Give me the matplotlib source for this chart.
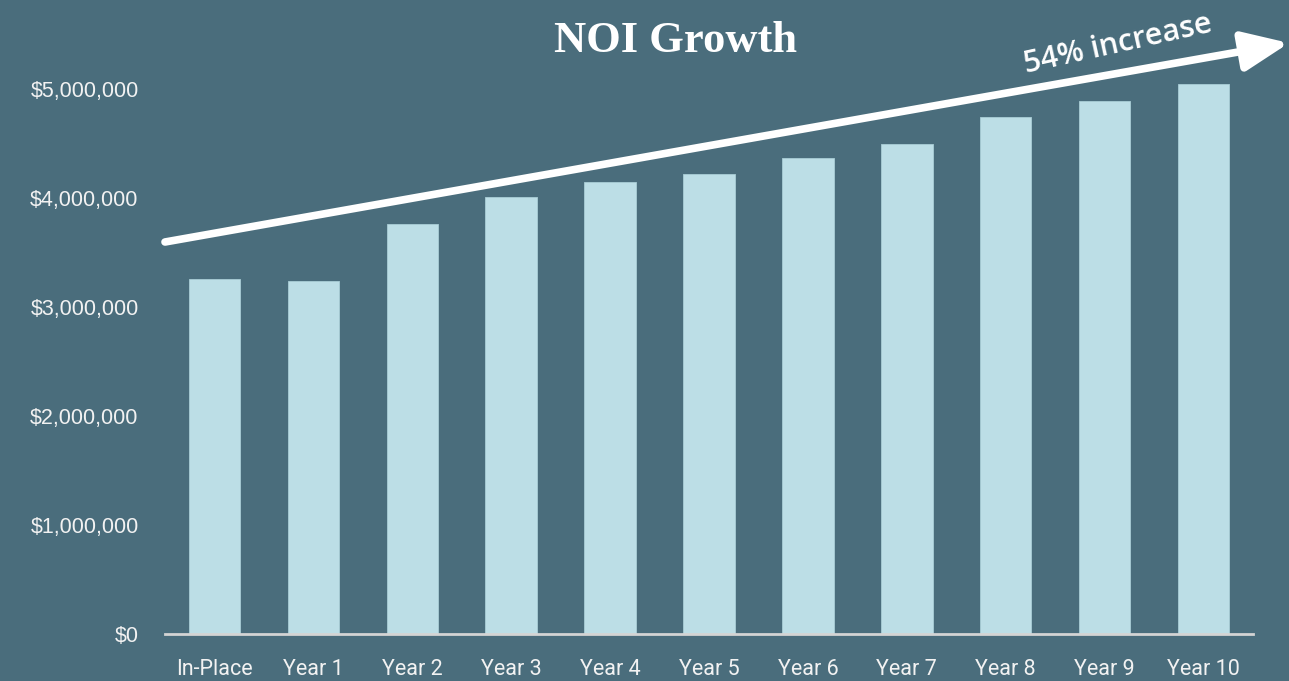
"""NOI growth bar chart with trend arrow."""

import matplotlib
matplotlib.use("Agg")
import matplotlib.pyplot as plt
from matplotlib.ticker import FuncFormatter

categories = ["In-Place", "Year 1", "Year 2", "Year 3", "Year 4", "Year 5",
              "Year 6", "Year 7", "Year 8", "Year 9", "Year 10"]
noi = [3257000, 3239000, 3761000, 4009000, 4147000, 4220000,
       4367000, 4495000, 4743000, 4890000, 5046000]
y_ticks = [0, 1000000, 2000000, 3000000, 4000000, 5000000]

BG = "#4a6d7c"
BAR = "#bcdee6"
TEXT = "#f2f2f2"

fig = plt.figure(figsize=(12.89, 6.81), dpi=100, facecolor=BG)
ax = fig.add_axes([165 / 1289, 47 / 681, 1088 / 1289, 599.5 / 681])
ax.set_facecolor(BG)

x = range(len(categories))
ax.bar(x, noi, width=0.52, color=BAR, edgecolor="#a9cdd6", linewidth=0.6)

ax.set_xlim(-0.5, len(categories) - 0.5)
ax.set_ylim(0, 5500000)
ax.set_xticks(list(x))
ax.set_xticklabels(categories, fontfamily="Roboto", fontsize=15.5, color=TEXT)
ax.set_yticks(y_ticks)
ax.yaxis.set_major_formatter(FuncFormatter(lambda v, _: f"${v:,.0f}"))
for lbl in ax.get_yticklabels():
    lbl.set_fontfamily("Liberation Sans")
    lbl.set_fontsize(15.5)
    lbl.set_color(TEXT)
ax.tick_params(axis="both", length=0)
ax.tick_params(axis="y", pad=19)
ax.tick_params(axis="x", pad=18)

for side in ["top", "right", "left"]:
    ax.spines[side].set_visible(False)
ax.spines["bottom"].set_color("#d4d4d4")
ax.spines["bottom"].set_linewidth(2)

fig.text(676 / 1289, 1 - 41 / 681, "NOI Growth", ha="center", va="center",
         fontfamily="Liberation Serif", fontweight="bold", fontsize=32, color="white")

# trend arrow
fig.patches.append(matplotlib.patches.FancyArrowPatch(
    (165 / 1289, 1 - 242 / 681), (1289 / 1289, 1 - 43 / 681),
    transform=fig.transFigure, arrowstyle="-|>,head_length=28,head_width=12",
    mutation_scale=1, color="white", linewidth=5.5, shrinkA=0, shrinkB=0))
fig.text(1118 / 1289, 1 - 44 / 681, "54% increase", ha="center", va="center",
         rotation=12.5, rotation_mode="anchor", fontfamily="Open Sans",
         fontweight="semibold", fontsize=22, color="white")

fig.savefig("out.png", dpi=100, facecolor=BG)
